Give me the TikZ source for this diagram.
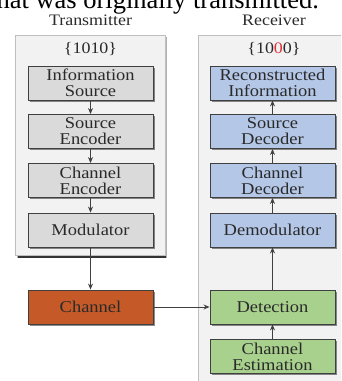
\documentclass[tikz,border=0pt]{standalone}
\usepackage{fontspec}
\setmainfont{Liberation Serif}[FakeStretch=1.12]
\newfontfamily\capfont{Liberation Serif}
\usetikzlibrary{arrows.meta,shadows}
\definecolor{panelfill}{HTML}{F2F2F2}
\definecolor{panelline}{HTML}{BFBFBF}
\definecolor{txfill}{HTML}{DADADA}
\definecolor{rxfill}{HTML}{B4C7E7}
\definecolor{chfill}{HTML}{C55A28}
\definecolor{detfill}{HTML}{A9D18E}
\definecolor{boxline}{HTML}{404040}
\definecolor{inktext}{HTML}{2A2A2A}
\definecolor{bitred}{HTML}{E0303A}
\tikzset{
  blk/.style={draw=boxline, line width=0.9pt, inner sep=0pt,
    minimum width=125pt, minimum height=34pt, align=center,
    text=inktext, font=\fontsize{16.5}{16}\selectfont,
    drop shadow={shadow xshift=1.6pt, shadow yshift=-1.6pt, opacity=0.45, fill=black}},
  txblk/.style={blk, fill=txfill},
  rxblk/.style={blk, fill=rxfill},
  chblk/.style={blk, fill=chfill},
  detblk/.style={blk, fill=detfill},
  panel/.style={draw=panelline, line width=0.8pt, fill=panelfill},
  title/.style={text=inktext, font=\fontsize{16}{16}\selectfont},
  flow/.style={draw=boxline, line width=0.9pt, -{Stealth[length=6pt,width=5pt]}}
}
\begin{document}
\begin{tikzpicture}[x=1pt,y=-1pt]
\useasboundingbox (0,0) rectangle (341,381);
\begin{scope}
\clip (0,0) rectangle (341,381);
% caption line running across the top edge
\node[anchor=base west, inner sep=0pt, text=black,
      font=\capfont\fontsize{26.5}{26.5}\selectfont] (cap) at (-11,8.5)
      {that was originally transmitted.};
% group panels, the transmitter one with a shadow
\fill[black!30] (17,37) rectangle (167,257.5);
\fill[black!80] (18,255) rectangle (166,257.5);
\node[panel, anchor=north west, minimum width=150pt, minimum height=220pt, inner sep=0pt] (txpanel) at (15,35) {};
\node[panel, anchor=north west, minimum width=160pt, minimum height=360pt, inner sep=0pt] (rxpanel) at (198,35) {};
\end{scope}
\node[title] (txtitle) at (90.5,20) {Transmitter};
\node[title] (rxtitle) at (274,20) {Receiver};
\node[title] (txbits) at (90.5,49) {\{1010\}};
\node[title] (rxbits) at (274,49) {\{10\textcolor{bitred}{0}0\}};
% transmitter chain
\node[txblk] (src) at (90.5,83) {Information\\Source};
\node[txblk] (senc) at (90.5,131.5) {Source\\Encoder};
\node[txblk] (cenc) at (90.5,180.5) {Channel\\Encoder};
\node[txblk] (mod) at (90.5,230) {Modulator};
% channel
\node[chblk] (chan) at (90.5,307) {Channel};
% receiver chain
\node[rxblk] (rec) at (272.5,83) {Reconstructed\\Information};
\node[rxblk] (sdec) at (272.5,131.5) {Source\\Decoder};
\node[rxblk] (cdec) at (272.5,180.5) {Channel\\Decoder};
\node[rxblk] (demod) at (272.5,230) {Demodulator};
\node[detblk] (det) at (272.5,307) {Detection};
\node[detblk] (est) at (272.5,356.5) {Channel\\Estimation};
% connectors
\draw[flow] (src) -- (senc);
\draw[flow] (senc) -- (cenc);
\draw[flow] (cenc) -- (mod);
\draw[flow] (mod) -- (chan);
\draw[flow] (chan) -- (det);
\draw[flow] (est) -- (det);
\draw[flow] (det) -- (demod);
\draw[flow] (demod) -- (cdec);
\draw[flow] (cdec) -- (sdec);
\draw[flow] (sdec) -- (rec);
\end{tikzpicture}
\end{document}
